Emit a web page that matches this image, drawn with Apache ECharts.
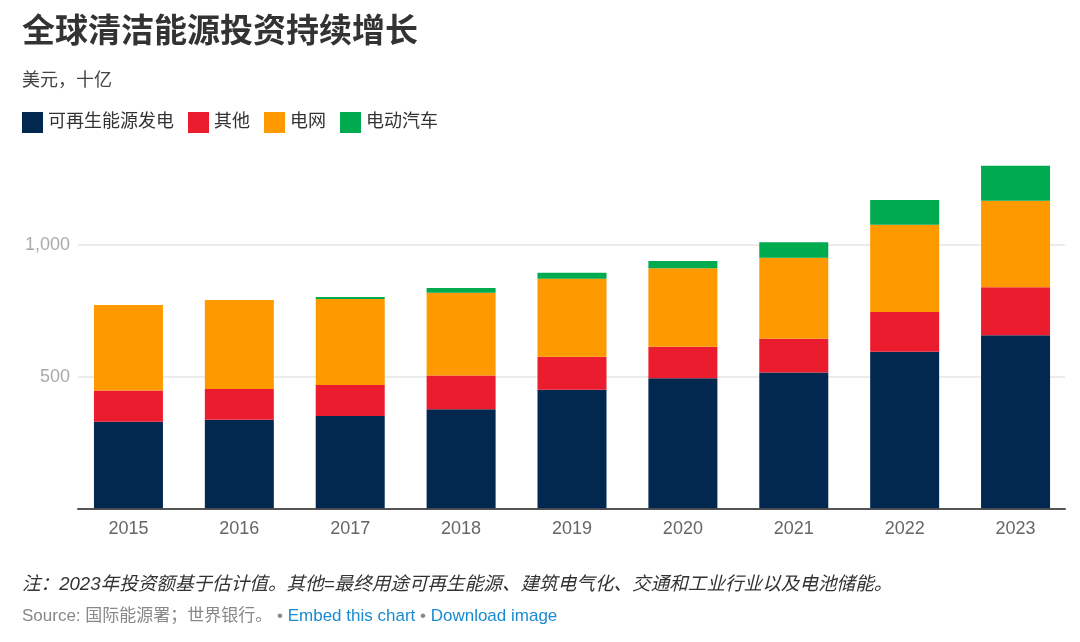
<!DOCTYPE html>
<html>
<head>
<meta charset="utf-8">
<script src="https://cdn.jsdelivr.net/npm/echarts@6/dist/echarts.min.js"></script>
<style>
html,body{margin:0;padding:0;background:#fff;}
#chart{width:1080px;height:642px;}
</style>
</head>
<body>
<div id="chart"></div>
<script>
var categories = ['2015','2016','2017','2018','2019','2020','2021','2022','2023'];
var seriesNames = ['可再生能源发电','其他','电网','电动汽车'];
var renewables = [329, 336, 351, 376, 450, 494, 516, 595, 657];
var other      = [118, 117, 117, 128, 126, 120, 128, 151, 183];
var grid_      = [325, 338, 327, 315, 296, 298, 308, 331, 328];
var ev         = [0, 0, 8, 18, 23, 27, 59, 94, 133];
var yTicks = [500, 1000];

var titleText = '全球清洁能源投资持续增长';
var subtitleText = '美元，十亿';
var noteText = '注：2023年投资额基于估计值。其他=最终用途可再生能源、建筑电气化、交通和工业行业以及电池储能。';

var colors = ['#02284f', '#ec1c2f', '#ff9900', '#00aa4f'];
var FONT = '"Liberation Sans", Arial, "Noto Sans CJK SC", sans-serif';

var chart = echarts.init(document.getElementById('chart'), null, {renderer:'canvas'});
var values = [renewables, other, grid_, ev];

var series = values.map(function(v, i){
  return {
    name: seriesNames[i],
    type: 'bar',
    stack: 'total',
    xAxisIndex: 1,
    yAxisIndex: 1,
    barWidth: 69,
    data: v,
    itemStyle: {color: colors[i]},
    emphasis: {disabled: true}
  };
});

var option = {
  animation: false,
  textStyle: {fontFamily: FONT},
  legend: {
    left: 22, top: 112, padding: 0,
    itemWidth: 21, itemHeight: 21, itemGap: 14,
    icon: 'rect',
    textStyle: {fontSize: 18, color: '#333', fontFamily: FONT},
    data: seriesNames,
    selectedMode: false
  },
  grid: [
    {left: 78, right: 15, top: 113.4, bottom: 133.7},
    {left: 73, right: 9, top: 113.4, bottom: 133.7}
  ],
  xAxis: [
    {
      type: 'category', gridIndex: 0, data: categories,
      axisLine: {show: true, lineStyle: {color: '#555', width: 2}},
      axisTick: {show: false}, axisLabel: {show: false}, splitLine: {show: false}
    },
    {
      type: 'category', gridIndex: 1, data: categories,
      axisLine: {show: false}, axisTick: {show: false},
      axisLabel: {color: '#666', fontSize: 18, margin: 12, fontFamily: FONT}
    }
  ],
  yAxis: [
    {
      type: 'value', gridIndex: 0, min: 0, max: 1500, interval: 500,
      axisLine: {show: false}, axisTick: {show: false},
      axisLabel: {
        color: '#aaa', fontSize: 18, margin: 8, fontFamily: FONT,
        showMinLabel: false, showMaxLabel: false,
        formatter: function(v){ return yTicks.indexOf(v) >= 0 ? v.toLocaleString('en-US') : ''; }
      },
      splitLine: {show: true, showMinLine: false, showMaxLine: false, lineStyle: {color: '#e6e6e6', width: 1.5}}
    },
    {
      type: 'value', gridIndex: 1, min: 0, max: 1500, interval: 500, show: false,
      splitLine: {show: false}
    }
  ],
  series: series,
  graphic: [
    {type: 'text', left: 22, top: 13, style: {text: titleText, fontSize: 33, fontWeight: 'bold', fill: '#333', fontFamily: '"Noto Sans CJK SC", sans-serif'}},
    {type: 'text', left: 22, top: 70, style: {text: subtitleText, fontSize: 18, fill: '#444', fontFamily: '"Noto Sans CJK SC", sans-serif'}},
    {type: 'text', left: 22, top: 576, style: {text: noteText, fontSize: 18.6, fontStyle: 'italic', fill: '#333', fontFamily: FONT}},
    {type: 'text', left: 22, top: 608, style: {
      text: '{g|Source: 国际能源署；世界银行。 • }{b|Embed this chart}{g| • }{b|Download image}',
      rich: {
        g: {fontSize: 17, fill: '#888', fontFamily: FONT},
        b: {fontSize: 17, fill: '#1a8bd0', fontFamily: FONT}
      }
    }}
  ]
};
chart.setOption(option);
</script>
</body>
</html>
